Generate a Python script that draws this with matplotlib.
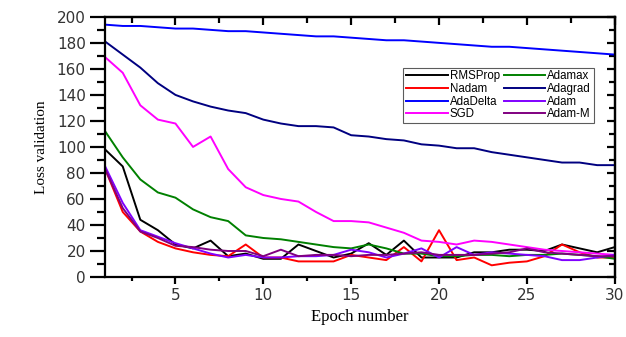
import matplotlib
matplotlib.use("Agg")
import matplotlib.pyplot as plt
import numpy as np
from matplotlib.ticker import MultipleLocator

epochs = np.arange(1, 31)

rmsprop = [98, 85, 44, 36, 25, 22, 28, 16, 18, 14, 14, 25, 20, 15, 18,
           26, 17, 28, 15, 15, 15, 19, 19, 21, 21, 20, 25, 22, 19, 23]
nadam = [83, 50, 35, 27, 22, 19, 17, 16, 25, 15, 15, 12, 12, 12, 17,
         15, 13, 23, 12, 36, 13, 15, 9, 11, 12, 16, 25, 19, 15, 15]
adadelta = [194, 193, 193, 192, 191, 191, 190, 189, 189, 188, 187, 186, 185, 185, 184,
            183, 182, 182, 181, 180, 179, 178, 177, 177, 176, 175, 174, 173, 172, 171]
sgd = [169, 157, 132, 121, 118, 100, 108, 83, 69, 63, 60, 58, 50, 43, 43,
       42, 38, 34, 28, 27, 25, 28, 27, 25, 23, 21, 20, 19, 18, 17]
adamax = [112, 92, 75, 65, 61, 52, 46, 43, 32, 30, 29, 27, 25, 23, 22,
          25, 22, 18, 18, 16, 16, 17, 17, 16, 17, 17, 18, 17, 16, 14]
adagrad = [181, 171, 161, 149, 140, 135, 131, 128, 126, 121, 118, 116, 116, 115, 109,
           108, 106, 105, 102, 101, 99, 99, 96, 94, 92, 90, 88, 88, 86, 86]
adam = [85, 57, 36, 31, 26, 22, 18, 15, 17, 15, 15, 16, 16, 17, 21,
        19, 15, 18, 22, 15, 23, 17, 19, 18, 17, 16, 13, 13, 15, 17]
adam_m = [83, 53, 35, 30, 24, 23, 21, 20, 20, 16, 21, 16, 17, 17, 16,
          17, 17, 18, 19, 17, 17, 17, 18, 19, 22, 19, 18, 17, 16, 16]

series = [("RMSProp", rmsprop, "#000000"), ("Nadam", nadam, "#ff0000"),
          ("AdaDelta", adadelta, "#0000ff"), ("SGD", sgd, "#ff00ff"),
          ("Adamax", adamax, "#008000"), ("Adagrad", adagrad, "#000080"),
          ("Adam", adam, "#8000ff"), ("Adam-M", adam_m, "#800080")]

fig = plt.figure(figsize=(6.26, 3.37), dpi=100)
ax = fig.add_axes([0.168, 0.178, 0.814, 0.772])

for name, vals, col in series:
    ax.plot(epochs, vals, color=col, lw=1.4, label=name)

ax.set_xlim(1, 30)
ax.set_ylim(0, 200)
ax.xaxis.set_major_locator(MultipleLocator(5))
ax.xaxis.set_minor_locator(MultipleLocator(2.5))
ax.yaxis.set_major_locator(MultipleLocator(20))
ax.yaxis.set_minor_locator(MultipleLocator(10))

for s in ax.spines.values():
    s.set_linewidth(1.6)
ax.tick_params(axis='y', which='major', direction='out', length=11, width=1.6,
               labelsize=11, labelcolor='#333333', pad=3)
ax.tick_params(axis='y', which='minor', direction='out', length=6, width=1.6)
ax.tick_params(axis='x', which='major', direction='out', length=5, width=1.6,
               labelsize=11, labelcolor='#333333', pad=3)
ax.tick_params(axis='x', which='minor', direction='out', length=3, width=1.6)

top = ax.secondary_xaxis('top')
top.xaxis.set_major_locator(MultipleLocator(5))
top.xaxis.set_minor_locator(MultipleLocator(2.5))
top.tick_params(which='major', direction='in', length=6, width=1.6, labeltop=False)
top.tick_params(which='minor', direction='in', length=4, width=1.6)
top.spines['top'].set_linewidth(1.6)

right = ax.secondary_yaxis('right')
right.yaxis.set_major_locator(MultipleLocator(20))
right.yaxis.set_minor_locator(MultipleLocator(10))
right.tick_params(which='major', direction='in', length=6, width=1.6, labelright=False)
right.tick_params(which='minor', direction='in', length=4, width=1.6)
right.spines['right'].set_linewidth(1.6)

ax.set_xlabel('Epoch number', family='Liberation Serif', fontsize=12, labelpad=4)
ax.set_ylabel('Loss validation', family='Liberation Serif', fontsize=11, labelpad=6)

leg = ax.legend(ncol=2, loc='upper left', bbox_to_anchor=(0.585, 0.805),
                prop={'family': 'Liberation Sans', 'size': 8.3}, frameon=True,
                fancybox=False, edgecolor='#333333', handlelength=3.6,
                handletextpad=0.2, columnspacing=0.3, labelspacing=0.05,
                borderpad=0.25, borderaxespad=0)
leg.get_frame().set_linewidth(0.8)

fig.savefig('out.png', dpi=100)
